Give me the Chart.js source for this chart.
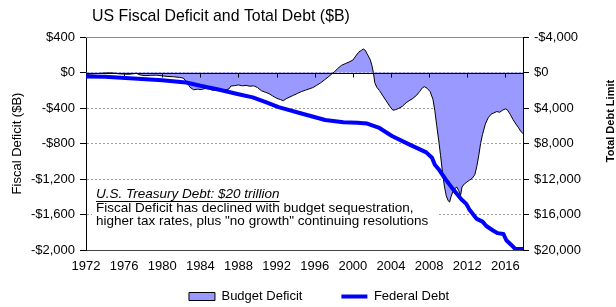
<!DOCTYPE html>
<html>
<head>
<meta charset="utf-8">
<script src="https://cdn.jsdelivr.net/npm/chart.js@4.4.0/dist/chart.umd.min.js"></script>
<style>
    body { margin: 0; background: #fff; }
    #wrap { width: 616px; height: 307px; }
</style>
</head>
<body>
<div id="wrap"><canvas id="myChart" width="616" height="307"></canvas></div>
<script>
// fiscal year position (decimal) and rolling deficit, $B
const deficitYears = [
    1972.0, 1972.5, 1973.0, 1973.5, 1974.0, 1974.5, 1975.0, 1975.5, 1976.0, 1976.5,
    1977.0, 1977.3, 1977.7, 1978.2, 1978.8, 1979.4, 1980.0, 1980.6, 1981.2, 1981.8,
    1982.2, 1982.6, 1982.9, 1983.3, 1983.7, 1984.1, 1984.5, 1984.9, 1985.3, 1985.8,
    1986.2, 1986.6, 1987.0, 1987.2, 1987.6, 1988.0, 1988.4, 1988.8, 1989.2, 1989.6,
    1990.0, 1990.4, 1990.8, 1991.2, 1991.6, 1992.0, 1992.4, 1992.7, 1993.0, 1993.4,
    1993.8, 1994.2, 1994.6, 1995.0, 1995.4, 1995.8, 1996.2, 1996.6, 1997.0, 1997.4,
    1997.8, 1998.1, 1998.4, 1998.8, 1999.2, 1999.6, 2000.0, 2000.3, 2000.6, 2000.9,
    2001.1, 2001.3, 2001.5, 2001.8, 2002.0, 2002.15, 2002.3, 2002.5, 2002.8, 2003.1,
    2003.5, 2003.9, 2004.2, 2004.5, 2004.8, 2005.2, 2005.6, 2005.9, 2006.3, 2006.7,
    2007.0, 2007.3, 2007.5, 2007.8, 2008.1, 2008.4, 2008.6, 2008.8, 2009.0, 2009.2,
    2009.4, 2009.6, 2009.8, 2010.0, 2010.15, 2010.3, 2010.5, 2010.7, 2010.9, 2011.1,
    2011.3, 2011.45, 2011.7, 2011.9, 2012.2, 2012.5, 2012.8, 2013.0, 2013.2, 2013.4,
    2013.6, 2013.9, 2014.2, 2014.5, 2014.8, 2015.1, 2015.4, 2015.7, 2016.0, 2016.2,
    2016.5, 2016.8, 2017.1, 2017.4, 2017.6, 2017.85
];
const deficitValues = [
    -22, -18, -14, -10, -6, -4, -8, -15, -18, -20,
    -14, -10, -28, -35, -32, -30, -38, -45, -48, -55,
    -62, -110, -165, -195, -188, -192, -180, -186, -200, -196,
    -205, -198, -185, -152, -148, -140, -150, -145, -155, -150,
    -170, -205, -222, -238, -265, -290, -305, -318, -296, -275,
    -255, -235, -215, -200, -185, -170, -145, -118, -85, -52,
    -15, 10, 45, 80, 100, 118, 140, 185, 228, 250,
    265, 250, 210, 150, 80, 0, -115, -165, -205, -255,
    -320, -385, -425, -418, -405, -380, -340, -318, -292, -255,
    -215, -172, -160, -178, -215, -300, -430, -600, -760, -935,
    -1120, -1280, -1390, -1445, -1460, -1400, -1340, -1310, -1290, -1330,
    -1385, -1290, -1255, -1240, -1215, -1195, -1150, -1060, -940, -800,
    -700, -580, -510, -470, -455, -440, -448, -425, -410, -420,
    -470, -530, -580, -625, -660, -690
];

// total federal debt, $B
const debtYears = [
    1972.0, 1974.0, 1977.0, 1980.0, 1982.5, 1984.0, 1986.0, 1988.0, 1989.5, 1991.0,
    1992.2, 1994.7, 1997.1, 1999.0, 2000.5, 2001.5, 2002.7, 2004.1, 2005.9, 2007.7,
    2008.3, 2008.6, 2009.0, 2009.7, 2010.4, 2011.4, 2011.9, 2012.2, 2013.0, 2013.6,
    2014.0, 2014.7, 2015.2, 2015.8, 2016.1, 2016.6, 2017.0, 2017.85
];
const debtValues = [
    450, 480, 670, 880, 1120, 1500, 1950, 2450, 2800, 3400,
    3900, 4650, 5350, 5600, 5650, 5750, 6200, 7150, 8100, 9000,
    9600, 10400, 10900, 12000, 13000, 14300, 14800, 15400, 16500, 16800,
    17300, 17800, 18100, 18200, 18900, 19400, 19850, 19900
];

const yearMin = 1972;
const yearMax = 2017.85;
const yearStep = 4;
const deficitMin = -2000, deficitMax = 400, deficitStep = 400;
const debtMin = -4000, debtMax = 20000, debtStep = 4000;

const chartTitle = 'US Fiscal Deficit and Total Debt ($B)';
const rightTitle = 'Total Debt Limit';
const noteLines = [
    'U.S. Treasury Debt: $20 trillion',
    'Fiscal Deficit has declined with budget sequestration,',
    'higher tax rates, plus "no growth" continuing resolutions'
];

const FONT = "'Liberation Sans', Arial, sans-serif";

function money(v) {
    return (v < 0 ? '-$' : '$') + Math.abs(v).toLocaleString('en-US');
}

const extras = {
    id: 'extras',
    afterLayout(chart) {
        // move the legend up under the axis labels and a little right
        const lg = chart.legend;
        lg.left += 11;
        lg.right += 11;
        lg.top -= 29;
        lg.bottom -= 29;
    },
    beforeDatasetsDraw(chart) {
        const ctx = chart.ctx;
        const area = chart.chartArea;
        ctx.save();
        // solid top line
        ctx.strokeStyle = '#8c8c8c';
        ctx.lineWidth = 1;
        ctx.beginPath();
        ctx.moveTo(area.left, area.top + 0.5);
        ctx.lineTo(area.right, area.top + 0.5);
        ctx.stroke();
        // note box
        ctx.fillStyle = '#fff';
        ctx.fillRect(area.left + 6, 183, 345, 47);
        ctx.fillStyle = '#000';
        ctx.textBaseline = 'middle';
        ctx.font = 'italic 13.5px ' + FONT;
        ctx.fillText(noteLines[0], 96, 194);
        const w = ctx.measureText(noteLines[0]).width;
        ctx.fillRect(96, 201, w, 1);
        ctx.font = '13.5px ' + FONT;
        ctx.fillText(noteLines[1], 96, 208);
        ctx.fillText(noteLines[2], 96, 221.5);
        ctx.restore();
    },
    afterDatasetDraw(chart, args) {
        if (args.index !== 0) return;
        const ctx = chart.ctx;
        const area = chart.chartArea;
        const y0 = Math.round(chart.scales.y.getPixelForValue(0)) + 0.5;
        ctx.save();
        ctx.strokeStyle = '#000';
        ctx.lineWidth = 1;
        ctx.beginPath();
        ctx.moveTo(area.left, y0);
        ctx.lineTo(area.right, y0);
        chart.scales.x.ticks.forEach(t => {
            const x = Math.round(chart.scales.x.getPixelForValue(t.value)) + 0.5;
            ctx.moveTo(x, y0);
            ctx.lineTo(x, y0 + 4);
        });
        ctx.stroke();
        ctx.restore();
    },
    afterDraw(chart) {
        const ctx = chart.ctx;
        ctx.save();
        ctx.fillStyle = '#000';
        ctx.textBaseline = 'middle';
        // title should run from x=92 to about x=350
        ctx.font = '16px ' + FONT;
        let size = 16 * 258 / ctx.measureText(chartTitle).width;
        ctx.font = size.toFixed(1) + 'px ' + FONT;
        ctx.fillText(chartTitle, 92, 17);
        ctx.translate(611, 121);
        ctx.rotate(-Math.PI / 2);
        ctx.textAlign = 'center';
        ctx.font = 'bold 11px ' + FONT;
        ctx.fillText(rightTitle, 0, 0);
        ctx.restore();
    }
};

window.addEventListener('load', function() {
    Chart.defaults.font.family = FONT;
    Chart.defaults.font.size = 13;
    Chart.defaults.color = '#000';

    const ctx = document.getElementById('myChart');
    new Chart(ctx, {
        type: 'line',
        data: {
            datasets: [{
                label: 'Budget Deficit',
                data: deficitYears.map((x, i) => ({ x: x, y: deficitValues[i] })),
                yAxisID: 'y',
                borderColor: '#000000',
                borderWidth: 1,
                backgroundColor: '#9999ff',
                fill: 'origin',
                pointRadius: 0,
                pointStyle: 'rect',
                tension: 0,
                order: 1
            }, {
                label: 'Federal Debt',
                data: debtYears.map((x, i) => ({ x: x, y: debtValues[i] })),
                yAxisID: 'y1',
                borderColor: '#0000ff',
                backgroundColor: '#0000ff',
                borderWidth: 4,
                borderJoinStyle: 'round',
                fill: false,
                pointRadius: 0,
                pointStyle: 'line',
                tension: 0,
                order: 0
            }]
        },
        options: {
            responsive: false,
            animation: false,
            events: [],
            layout: { padding: { top: 37, left: 0, right: 0, bottom: -35 } },
            plugins: {
                title: { display: false },
                tooltip: { enabled: false },
                legend: {
                    position: 'bottom',
                    labels: {
                        usePointStyle: true,
                        pointStyleWidth: 26,
                        boxHeight: 8,
                        padding: 39,
                        font: { size: 13 },
                        sort: (a, b) => a.datasetIndex - b.datasetIndex
                    }
                }
            },
            scales: {
                x: {
                    type: 'linear',
                    min: yearMin,
                    max: yearMax,
                    grid: { display: false, drawTicks: false },
                    border: { display: true, color: '#444' },
                    ticks: {
                        stepSize: yearStep,
                        includeBounds: false,
                        autoSkip: false,
                        maxRotation: 0,
                        padding: 9,
                        callback: v => String(v)
                    },
                    afterFit: s => { s.height = 30; }
                },
                y: {
                    position: 'left',
                    min: deficitMin,
                    max: deficitMax,
                    ticks: { stepSize: deficitStep, padding: 5, callback: money },
                    grid: { color: '#a0a0a0', tickColor: '#000', tickLength: 6 },
                    border: { color: '#000', dash: [2, 2] },
                    title: { display: true, text: 'Fiscal Deficit ($B)', padding: { top: 10 } },
                    afterFit: s => { s.width = 86; }
                },
                y1: {
                    position: 'right',
                    reverse: true,
                    min: debtMin,
                    max: debtMax,
                    ticks: { stepSize: debtStep, padding: 5, callback: money },
                    grid: { drawOnChartArea: false, tickColor: '#000', tickLength: 6 },
                    border: { color: '#000' },
                    afterFit: s => { s.width = 93; }
                }
            }
        },
        plugins: [extras]
    });
});
</script>
</body>
</html>
